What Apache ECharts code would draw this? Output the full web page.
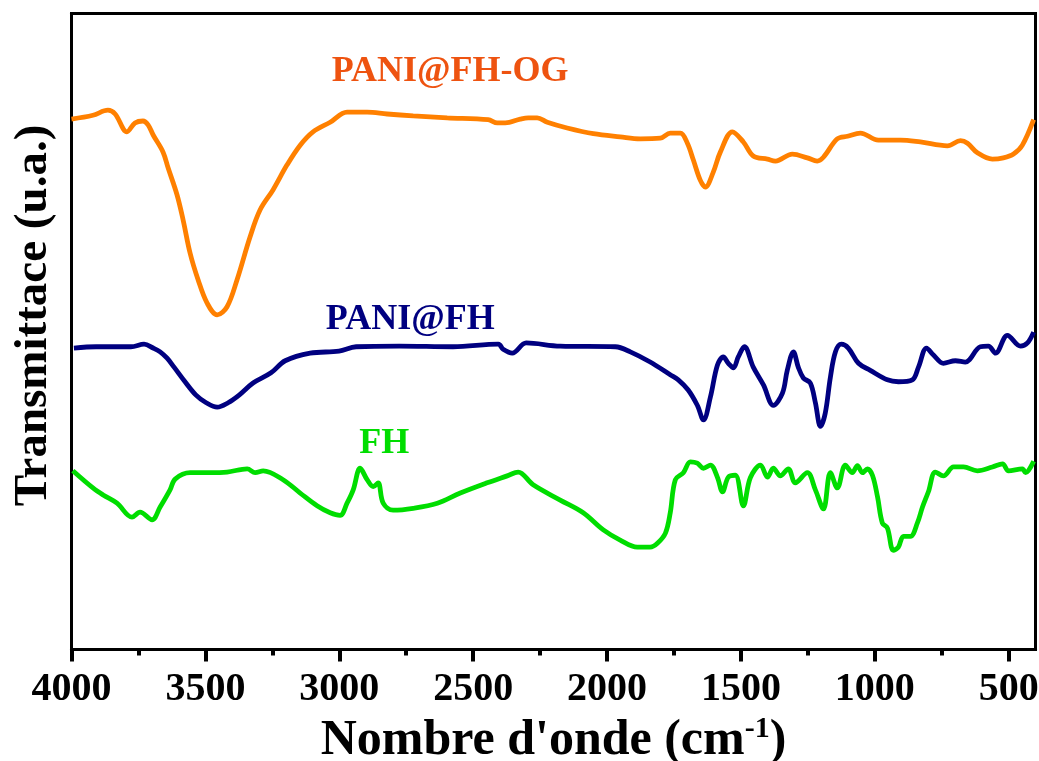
<!DOCTYPE html>
<html>
<head>
<meta charset="utf-8">
<script src="https://cdn.jsdelivr.net/npm/echarts@6/dist/echarts.min.js"></script>
<style>
html,body{margin:0;padding:0;background:#fff;}
#chart{width:1039px;height:761px;}
</style>
</head>
<body>
<div id="chart"></div>
<script>
// Wavenumber (cm-1) / transmittance (arbitrary units, offset curves)
const ogWn = [4000,3920,3864,3837,3793,3763,3733,3714,3695,3658,3639,3606,3583,3557,3527,3494,3456,3419,3382,3333,3296,3247,3195,3146,3098,3034,2971,2896,2821,2724,2597,2444,2410,2380,2324,2294,2261,2223,2149,2051,1951,1876,1801,1764,1726,1700,1678,1652,1633,1603,1577,1532,1491,1454,1401,1371,1308,1252,1215,1192,1140,1102,1054,987,904,830,729,680,654,617,561,520,482,449,407];
const ogT  = [83.4,84.0,84.8,84.2,81.4,82.8,83.1,82.5,80.9,78.2,75.7,71.5,67.5,62.3,58.1,54.5,52.6,53.9,58.1,64.9,69.1,72.3,76.2,79.3,81.4,82.9,84.5,84.5,84.2,83.9,83.6,83.3,82.8,82.8,83.4,83.6,83.6,82.9,82.0,81.1,80.6,80.3,80.4,81.2,81.2,79.6,77.0,73.8,72.7,75.1,78.2,81.4,79.8,77.6,77.1,76.8,77.9,77.3,76.8,77.4,80.3,80.7,81.2,80.1,80.1,79.8,79.2,80.0,79.6,78.1,77.1,77.3,77.9,79.3,83.3];

const pfWn = [3991,3908,3778,3729,3695,3669,3643,3617,3576,3535,3497,3456,3415,3374,3322,3255,3202,3109,3001,2937,2776,2575,2406,2388,2354,2302,2175,1969,1913,1839,1764,1734,1697,1663,1640,1614,1588,1566,1547,1528,1510,1487,1454,1416,1379,1345,1327,1304,1286,1267,1241,1222,1203,1185,1166,1147,1125,1099,1061,1017,953,912,860,837,807,781,744,699,662,606,576,549,505,456,430,407];
const pfT  = [47.4,47.6,47.6,48.0,47.4,46.8,45.8,44.4,42.1,40.0,38.8,38.1,38.8,40.0,41.9,43.5,45.4,46.6,46.9,47.6,47.7,47.6,48.0,47.2,46.6,48.2,47.7,47.6,46.8,45.2,43.2,42.4,40.8,38.4,36.1,39.7,44.7,46.0,45.0,44.3,46.0,47.6,44.4,41.6,38.4,40.3,43.9,46.8,44.4,42.7,41.9,38.8,35.1,37.2,42.8,46.8,48.0,47.4,45.0,43.9,42.4,42.1,42.4,44.4,47.4,46.3,45.0,45.4,45.2,47.6,47.7,46.6,49.4,47.7,48.2,49.9];

const fhWn = [3995,3920,3882,3830,3774,3744,3699,3669,3632,3613,3557,3483,3419,3344,3314,3284,3210,3146,3083,3034,2997,2971,2948,2922,2896,2873,2855,2836,2799,2724,2634,2548,2448,2373,2332,2276,2175,2089,2014,1951,1887,1839,1812,1782,1764,1745,1715,1689,1663,1640,1614,1588,1569,1547,1521,1491,1465,1427,1401,1379,1353,1323,1297,1252,1222,1192,1166,1140,1110,1084,1065,1046,1028,1009,990,972,953,931,912,893,867,841,822,800,774,744,706,669,617,561,523,501,449,437,407];
const fhT  = [28.1,25.4,24.3,23.0,20.8,21.6,20.4,22.4,25.1,26.8,27.8,27.8,27.9,28.4,27.8,28.1,26.7,24.6,22.6,21.5,21.1,23.0,25.1,28.5,26.7,25.6,26.2,23.0,21.9,22.2,23.0,24.6,26.2,27.3,27.9,25.9,23.5,21.5,18.8,17.2,16.1,16.1,16.7,18.3,21.5,26.7,27.8,29.5,29.3,28.5,29.0,27.1,24.8,27.1,27.4,22.6,27.0,29.0,27.1,28.5,27.3,28.4,26.2,27.8,25.1,22.1,27.8,25.4,29.0,27.8,28.9,27.8,28.4,27.4,24.0,19.9,19.1,15.6,16.1,17.8,17.8,19.9,22.4,24.8,27.9,27.3,28.7,28.7,28.1,28.7,29.2,28.1,28.4,27.8,29.6];

const majorTicks = [500,1000,1500,2000,2500,3000,3500,4000];
const minorTicks = [750,1250,1750,2250,2750,3250,3750];

const seriesNames = ['PANI@FH-OG','PANI@FH','FH'];
const labelAnchors = [[2586,90.8],[2735,51.8],[2832,32.4]];

const FONT = "'Liberation Serif','Times New Roman',serif";
const lineColors = ['#FF8000','#000080','#00DD00'];
const labelColors = ['#EE5310','#000080','#00DD00'];

function zip(a,b){return a.map((v,i)=>[v,b[i]]);}
const dataSets = [zip(ogWn,ogT), zip(pfWn,pfT), zip(fhWn,fhT)];

const chart = echarts.init(document.getElementById('chart'));
const option = {
  animation:false,
  backgroundColor:'#fff',
  grid:{left:71.5,right:3.5,top:13.5,bottom:111.5,containLabel:false,outerBoundsMode:'none',
        show:true,borderColor:'#000',borderWidth:3,backgroundColor:'transparent'},
  xAxis:[{
    type:'value',min:400,max:4000,inverse:true,
    axisLine:{show:true,lineStyle:{color:'#000',width:3}},
    axisTick:{show:true,inside:false,length:12,lineStyle:{color:'#000',width:4},customValues:majorTicks},
    axisLabel:{show:true,customValues:majorTicks,margin:20,color:'#000',fontFamily:FONT,fontWeight:'bold',fontSize:40,
      formatter:v=>String(v)},
    splitLine:{show:false},
    name:"Nombre d'onde (cm{sup|-1})",
    nameLocation:'middle',nameGap:65,
    nameTextStyle:{color:'#000',fontFamily:FONT,fontWeight:'bold',fontSize:50,
      rich:{sup:{fontFamily:FONT,fontWeight:'bold',fontSize:30,color:'#000',verticalAlign:'bottom',padding:[0,0,23,0]}}}
  },{
    type:'value',min:400,max:4000,inverse:true,position:'bottom',
    axisLine:{show:false},
    axisTick:{show:true,length:6,lineStyle:{color:'#000',width:4},customValues:minorTicks},
    axisLabel:{show:false},
    splitLine:{show:false}
  }],
  yAxis:{
    type:'value',min:0,max:100,
    axisLine:{show:true,lineStyle:{color:'#000',width:3}},
    axisTick:{show:false},axisLabel:{show:false},splitLine:{show:false},
    name:'Transmittace (u.a.)',nameLocation:'middle',nameGap:14,
    nameTextStyle:{color:'#000',fontFamily:FONT,fontWeight:'bold',fontSize:47,padding:[0,0,0,32]}
  },
  series: seriesNames.map((n,i)=>({
    name:n,type:'line',xAxisIndex:0,data:dataSets[i],
    showSymbol:false,symbol:'none',smooth:0.35,
    lineStyle:{color:lineColors[i],width:4.8},
    markPoint:{
      symbol:'circle',symbolSize:0,silent:true,
      data:[{coord:labelAnchors[i],value:n}],
      label:{show:true,position:'inside',formatter:n,color:labelColors[i],fontFamily:FONT,fontWeight:'bold',fontSize:36}
    }
  }))
};
chart.setOption(option);
</script>
</body>
</html>
